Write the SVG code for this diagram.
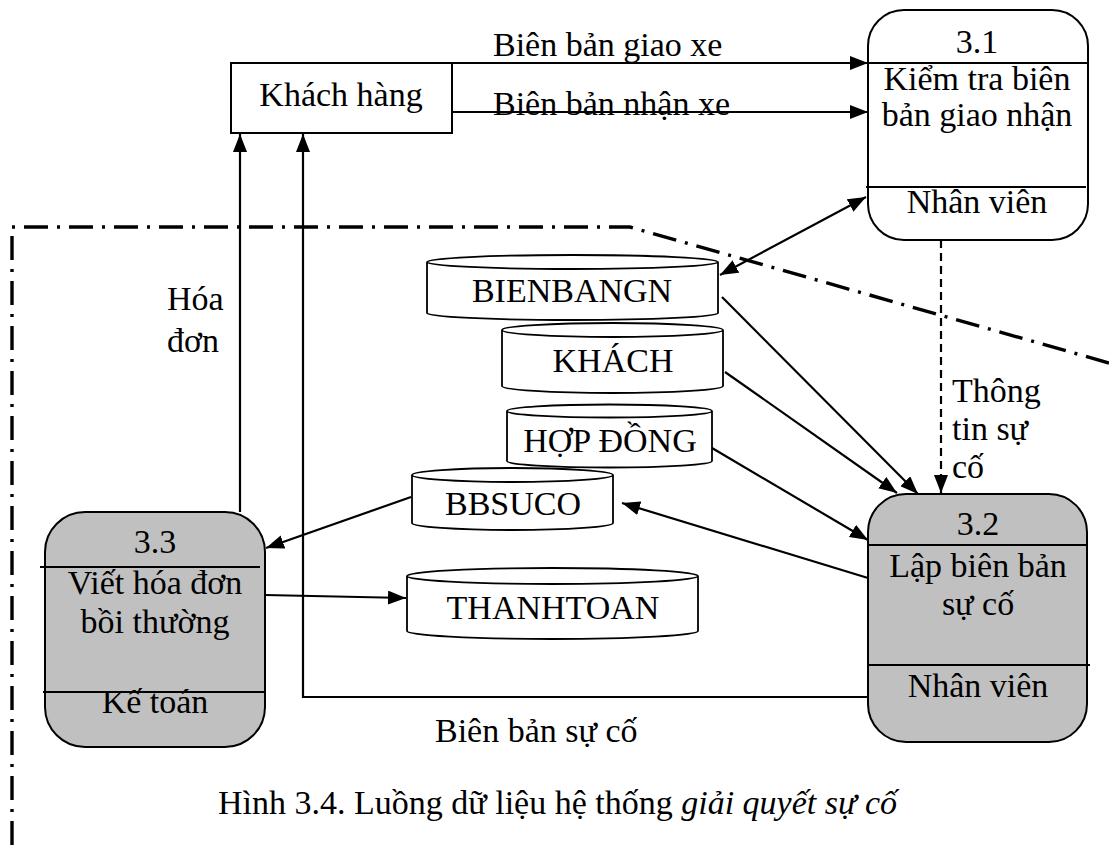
<svg xmlns="http://www.w3.org/2000/svg" width="1109" height="845" viewBox="0 0 1109 845">
  <style>
    text { font-family: "Liberation Serif", "Times New Roman", serif; font-size: 34px; fill: #000; }
    .mid { text-anchor: middle; }
    .box { fill: #fff; stroke: #000; stroke-width: 2; }
    .proc { stroke: #000; stroke-width: 2; }
    .white { fill: #fff; }
    .grey { fill: #c0c0c0; }
    .sep { stroke: #000; stroke-width: 2; }
    .store { fill: #fff; stroke: #000; stroke-width: 1.8; }
    .flow { fill: none; stroke: #000; stroke-width: 2.2; }
    .dash { stroke-dasharray: 8 5; }
    .bound { fill: none; stroke: #000; stroke-width: 3.4; stroke-dasharray: 24 9 3 9; }
  </style>
  <defs>
    <marker id="arrow" markerUnits="userSpaceOnUse" markerWidth="19" markerHeight="14" refX="18" refY="7" orient="auto-start-reverse">
      <path d="M0,0 L18,7 L0,14 z" fill="#000"/>
    </marker>
  </defs>

  <rect width="1109" height="845" fill="#fff"/>

  <!-- system boundary -->
  <path class="bound" d="M12,845 L12,227 L630,227 L1109,363"/>

  <!-- external entity -->
  <g id="khach-hang">
    <rect class="box" x="231" y="63" width="221" height="70"/>
    <text class="mid" x="341" y="106">Khách hàng</text>
  </g>

  <!-- process 3.1 -->
  <g id="p31">
    <rect class="proc white" x="868" y="10" width="220" height="230" rx="36" ry="36"/>
    <line class="sep" x1="866" y1="63" x2="1088" y2="63"/>
    <line class="sep" x1="866" y1="187" x2="1086" y2="187"/>
    <text class="mid" x="977" y="53">3.1</text>
    <text class="mid" x="977" y="90">Kiểm tra biên</text>
    <text class="mid" x="977" y="126">bản giao nhận</text>
    <text class="mid" x="977" y="213">Nhân viên</text>
  </g>

  <!-- process 3.2 -->
  <g id="p32">
    <rect class="proc grey" x="868" y="494" width="219" height="248" rx="38" ry="38"/>
    <line class="sep" x1="868" y1="545" x2="1087" y2="545"/>
    <line class="sep" x1="868" y1="665" x2="1090" y2="665"/>
    <text class="mid" x="978" y="535">3.2</text>
    <text class="mid" x="978" y="577">Lập biên bản</text>
    <text class="mid" x="978" y="615">sự cố</text>
    <text class="mid" x="978" y="697">Nhân viên</text>
  </g>

  <!-- process 3.3 -->
  <g id="p33">
    <rect class="proc grey" x="45" y="512" width="220" height="235" rx="40" ry="40"/>
    <line class="sep" x1="40" y1="567" x2="260" y2="567"/>
    <line class="sep" x1="43" y1="692" x2="265" y2="692"/>
    <text class="mid" x="155" y="553">3.3</text>
    <text class="mid" x="155" y="594">Viết hóa đơn</text>
    <text class="mid" x="155" y="633">bồi thường</text>
    <text class="mid" x="155" y="713">Kế toán</text>
  </g>

  <!-- data stores -->
  <g id="ds-bienbangn">
    <path class="store" d="M427,262 L427,313 A145.5,7 0 0 0 718,313 L718,262 A145.5,7 0 0 0 427,262 A145.5,7 0 0 0 718,262"/>
    <text class="mid" x="572" y="302">BIENBANGN</text>
  </g>
  <g id="ds-khach">
    <path class="store" d="M502,330 L502,386 A110.5,7 0 0 0 723,386 L723,330 A110.5,7 0 0 0 502,330 A110.5,7 0 0 0 723,330"/>
    <text class="mid" x="613" y="372">KHÁCH</text>
  </g>
  <g id="ds-hopdong">
    <path class="store" d="M507,411 L507,461 A102.5,6.5 0 0 0 712,461 L712,411 A102.5,6.5 0 0 0 507,411 A102.5,6.5 0 0 0 712,411"/>
    <text class="mid" x="610" y="452">HỢP ĐỒNG</text>
  </g>
  <g id="ds-bbsuco">
    <path class="store" d="M412,475 L412,523 A100.5,7 0 0 0 613,523 L613,475 A100.5,7 0 0 0 412,475 A100.5,7 0 0 0 613,475"/>
    <text class="mid" x="513" y="515">BBSUCO</text>
  </g>
  <g id="ds-thanhtoan">
    <path class="store" d="M407,576 L407,631 A145.5,8 0 0 0 698,631 L698,576 A145.5,8 0 0 0 407,576 A145.5,8 0 0 0 698,576"/>
    <text class="mid" x="553" y="619">THANHTOAN</text>
  </g>

  <!-- data flows -->
  <g id="connectors">
    <line class="flow" x1="452" y1="63" x2="868" y2="63" marker-end="url(#arrow)"/>
    <line class="flow" x1="452" y1="112" x2="868" y2="112" marker-end="url(#arrow)"/>
    <line class="flow" x1="720" y1="275" x2="866" y2="197" marker-start="url(#arrow)" marker-end="url(#arrow)"/>
    <line class="flow" x1="722" y1="297" x2="918" y2="494" marker-end="url(#arrow)"/>
    <line class="flow" x1="725" y1="372" x2="897" y2="493" marker-end="url(#arrow)"/>
    <line class="flow" x1="712" y1="448" x2="868" y2="540" marker-end="url(#arrow)"/>
    <line class="flow" x1="868" y1="578" x2="622" y2="503" marker-end="url(#arrow)"/>
    <line class="flow" x1="411" y1="497" x2="266" y2="548" marker-end="url(#arrow)"/>
    <line class="flow" x1="265" y1="595" x2="406" y2="598" marker-end="url(#arrow)"/>
    <line class="flow dash" x1="941" y1="240" x2="941" y2="493" marker-end="url(#arrow)"/>
    <polyline class="flow" points="868,697 303,697 303,134" marker-end="url(#arrow)"/>
    <line class="flow" x1="240" y1="512" x2="240" y2="134" marker-end="url(#arrow)"/>
  </g>

  <!-- flow labels -->
  <g id="labels">
    <text x="493" y="56">Biên bản giao xe</text>
    <text x="493" y="115">Biên bản nhận xe</text>
    <text x="167" y="310">Hóa</text>
    <text x="167" y="352">đơn</text>
    <text x="952" y="402">Thông</text>
    <text x="952" y="440">tin sự</text>
    <text x="952" y="478">cố</text>
    <text x="435" y="742">Biên bản sự cố</text>
  </g>

  <!-- caption -->
  <text x="218" y="814">Hình 3.4. Luồng dữ liệu hệ thống <tspan font-style="italic">giải quyết sự cố</tspan></text>
</svg>
